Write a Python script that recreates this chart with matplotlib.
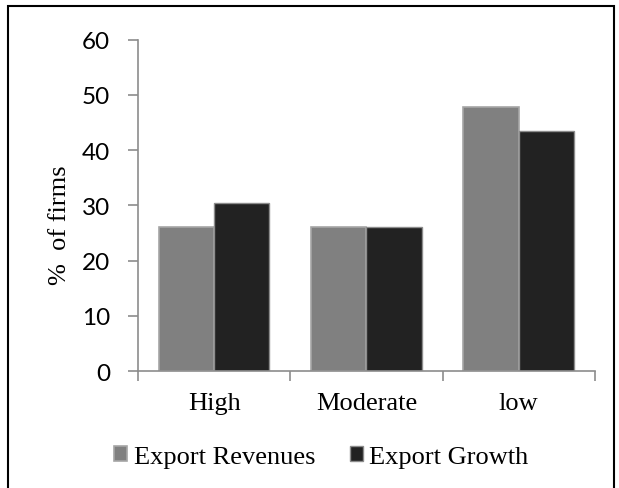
import numpy as np
import matplotlib
matplotlib.use("Agg")
from matplotlib import pyplot as plt
from matplotlib.patches import Rectangle

# data
categories = ["High", "Moderate", "low"]
export_revenues = [26.1, 26.1, 47.8]
export_growth = [30.4, 26.1, 43.5]
y_ticks = [0, 10, 20, 30, 40, 50, 60]

fig = plt.figure(figsize=(6.19, 4.89), dpi=100)
ax = fig.add_axes([0.223, 0.239, 0.738, 0.678])

x = np.arange(len(categories))
w = 0.363
b1 = ax.bar(x - w / 2, export_revenues, w, color="#808080", edgecolor="#a6a6a6", linewidth=1.2,
            label="Export Revenues")
b2 = ax.bar(x + w / 2, export_growth, w, color="#222222", edgecolor="#8c8c8c", linewidth=1.0,
            label="Export Growth")

ax.set_xlim(-0.5, 2.5)
ax.set_ylim(0, 60)
ax.set_yticks(y_ticks)
ax.set_yticklabels([str(t) for t in y_ticks], family="Lato", fontsize=17.5)
ax.set_xticks([-0.5, 0.5, 1.5, 2.5])
ax.set_xticklabels([])
ax.set_xticks(x, minor=True)
ax.set_xticklabels(categories, minor=True, family="Liberation Serif", fontsize=19)
ax.tick_params(axis="x", which="minor", length=0, pad=15)
ax.tick_params(axis="x", which="major", direction="out", length=7, color="#8c8c8c", width=1.2)
ax.tick_params(axis="y", direction="out", length=7, color="#8c8c8c", width=1.2, pad=13)

for s in ["top", "right"]:
    ax.spines[s].set_visible(False)
for s in ["left", "bottom"]:
    ax.spines[s].set_color("#8c8c8c")
    ax.spines[s].set_linewidth(1.2)

ax.set_ylabel("%  of firms", family="Liberation Serif", fontsize=19)
ax.yaxis.set_label_coords(-0.147, 0.444)

fig.legend(handles=[b1, b2], loc="center", bbox_to_anchor=(0.519, 0.063), ncol=2, frameon=False,
           prop={"family": "Liberation Serif", "size": 19}, handlelength=0.5, handleheight=0.5,
           handletextpad=0.25, columnspacing=1.3)

# figure border
fig.patches.append(Rectangle((0.013, -0.05), 0.979, 1.035, transform=fig.transFigure,
                             fill=False, edgecolor="black", linewidth=1.5))

fig.savefig("out.png", dpi=100)
